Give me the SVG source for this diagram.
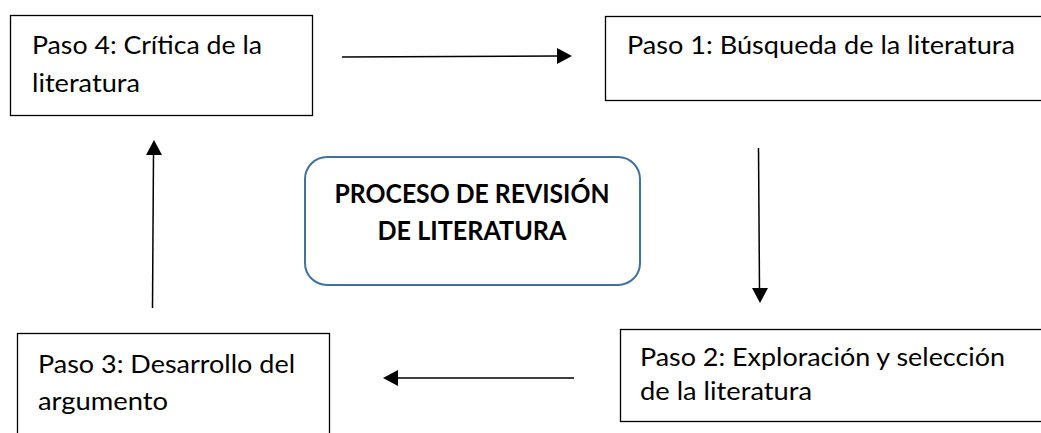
<svg xmlns="http://www.w3.org/2000/svg" width="1041" height="433" viewBox="0 0 1041 433">
<style>
.box{fill:#fff;stroke:#000;stroke-width:1.3}
.t{font-family:Lato,"Liberation Sans",sans-serif;font-size:25.5px;fill:#000}
.b{font-family:Lato,"Liberation Sans",sans-serif;font-size:26px;font-weight:bold;fill:#000;text-anchor:middle}
.c{stroke:#000;stroke-width:1.5;fill:none}
.h{fill:#000;stroke:none}
</style>
<rect width="1041" height="433" fill="#fff"/>
<g id="paso4">
<rect class="box" x="10.5" y="15.5" width="302" height="100"/>
<text class="t" x="32" y="54" textLength="230" lengthAdjust="spacingAndGlyphs">Paso 4: Crítica de la</text>
<text class="t" x="32" y="92" textLength="108" lengthAdjust="spacingAndGlyphs">literatura</text>
</g>
<g id="paso1">
<rect class="box" x="605.5" y="16.5" width="450" height="84"/>
<text class="t" x="627" y="54" textLength="388" lengthAdjust="spacingAndGlyphs">Paso 1: Búsqueda de la literatura</text>
</g>
<g id="centro">
<rect x="305" y="157" width="335" height="128" rx="22" ry="22" fill="#fff" stroke="#41719c" stroke-width="2"/>
<text class="b" x="472" y="203" textLength="275" lengthAdjust="spacingAndGlyphs">PROCESO DE REVISIÓN</text>
<text class="b" x="472" y="240" textLength="189" lengthAdjust="spacingAndGlyphs">DE LITERATURA</text>
</g>
<g id="paso3">
<rect class="box" x="17.5" y="333.5" width="312" height="120"/>
<text class="t" x="38" y="373" textLength="257" lengthAdjust="spacingAndGlyphs">Paso 3: Desarrollo del</text>
<text class="t" x="38" y="410" textLength="130" lengthAdjust="spacingAndGlyphs">argumento</text>
</g>
<g id="paso2">
<rect class="box" x="620.5" y="329.5" width="450" height="92"/>
<text class="t" x="640" y="366" textLength="365" lengthAdjust="spacingAndGlyphs">Paso 2: Exploración y selección</text>
<text class="t" x="640" y="400" textLength="172" lengthAdjust="spacingAndGlyphs">de la literatura</text>
</g>
<g id="connectors">
<line class="c" x1="342" y1="57" x2="558" y2="56"/>
<polygon class="h" points="557,48 572,56 557,64"/>
<line class="c" x1="758.5" y1="148" x2="759.5" y2="290"/>
<polygon class="h" points="752,288 768,288 760,303"/>
<line class="c" x1="574" y1="378" x2="397" y2="378"/>
<polygon class="h" points="398,370 383,378 398,386"/>
<line class="c" x1="152.5" y1="308" x2="153.5" y2="154"/>
<polygon class="h" points="146,155 162,155 154,140"/>
</g>
</svg>
